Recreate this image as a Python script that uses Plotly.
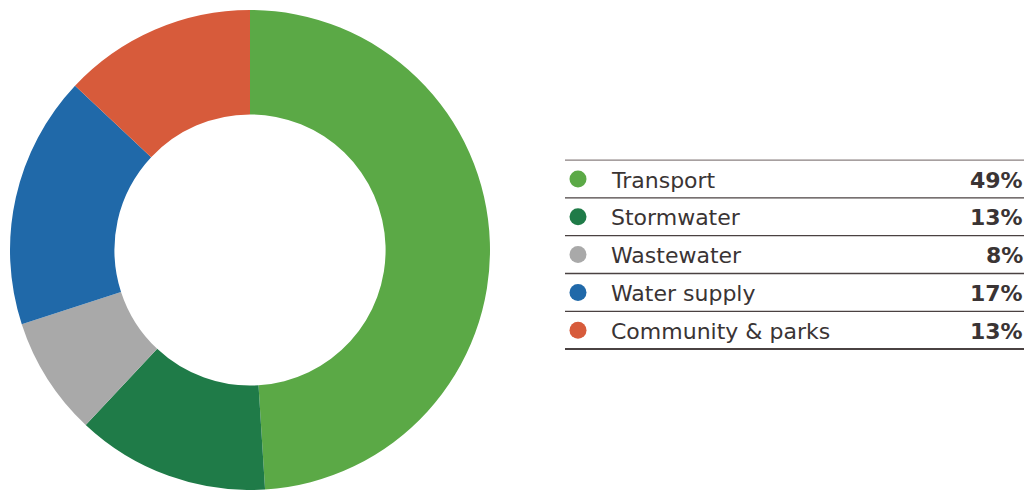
import plotly.graph_objects as go

# Spending share by asset class
categories = ["Transport", "Stormwater", "Wastewater", "Water supply", "Community & parks"]
shares = [49, 13, 8, 17, 13]
colors = ["#5ba946", "#1f7b48", "#a9a9a9", "#2069a9", "#d75b3b"]

W, H = 1028, 490

fig = go.Figure()

# Donut
fig.add_trace(go.Pie(
    labels=categories,
    values=shares,
    marker=dict(colors=colors, line=dict(width=0)),
    hole=0.565,
    sort=False,
    direction="clockwise",
    rotation=0,
    textinfo="none",
    hoverinfo="label+percent",
    showlegend=False,
    domain=dict(x=[10 / W, 490 / W], y=[0, 480 / H]),
))

# Table-style legend on the right, laid out in pixel coordinates
row0, pitch = 179, 37.8
row_y = [row0 + pitch * i for i in range(len(categories))]
x_left, x_right = 565, 1024

fig.add_trace(go.Scatter(
    x=[578] * len(categories),
    y=row_y,
    mode="markers",
    marker=dict(size=17, color=colors, line=dict(width=0)),
    hoverinfo="skip",
    showlegend=False,
))

shapes = []
for i in range(len(categories) + 1):
    y = row0 - pitch / 2 + pitch * i
    last = i == len(categories)
    first = i == 0
    shapes.append(dict(
        type="line", xref="x", yref="y",
        x0=x_left, x1=x_right, y0=y, y1=y,
        line=dict(color="#8a8080" if first else "#4a4242", width=2 if last else 1.3),
    ))

label_font = dict(family="DejaVu Sans", size=22, color="#3a3434")
annotations = []
for cat, val, y in zip(categories, shares, row_y):
    annotations.append(dict(
        x=609, y=y + 1, xref="x", yref="y", text=cat, showarrow=False,
        xanchor="left", yanchor="middle", font=label_font,
    ))
    annotations.append(dict(
        x=x_right + 1, y=y + 1, xref="x", yref="y", text=f"<b>{val}%</b>", showarrow=False,
        xanchor="right", yanchor="middle", font=label_font,
    ))

fig.update_layout(
    width=W, height=H,
    margin=dict(l=0, r=0, t=0, b=0),
    paper_bgcolor="white",
    plot_bgcolor="rgba(0,0,0,0)",
    xaxis=dict(range=[0, W], visible=False, fixedrange=True),
    yaxis=dict(range=[H, 0], visible=False, fixedrange=True),
    shapes=shapes,
    annotations=annotations,
)

fig.write_html("out.html")
